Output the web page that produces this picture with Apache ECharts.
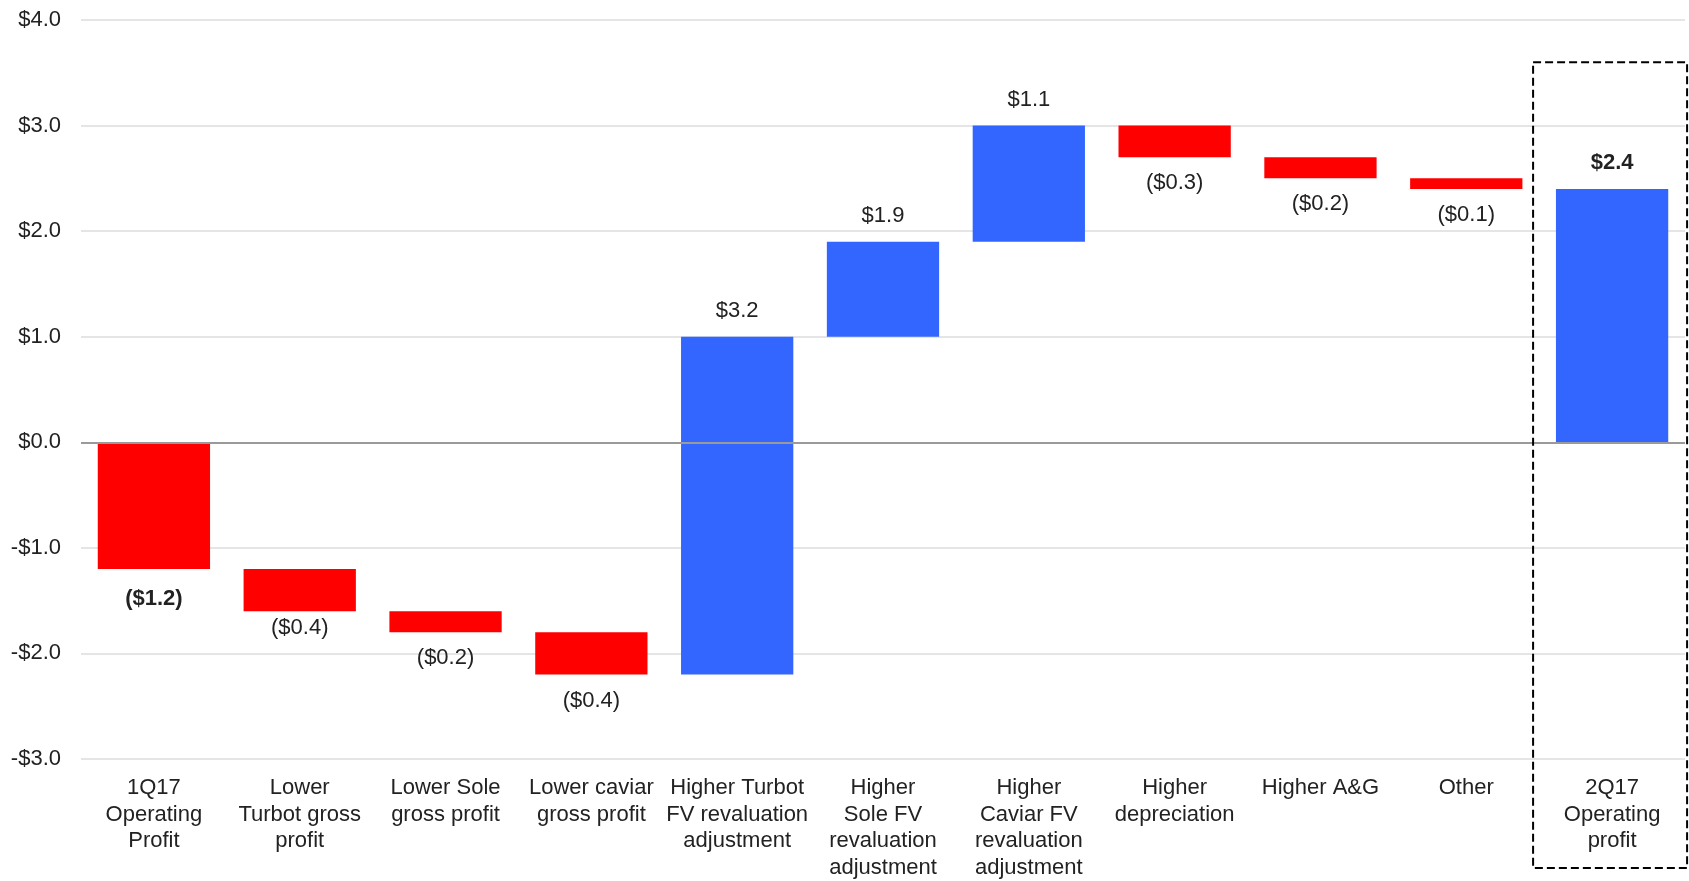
<!DOCTYPE html>
<html>
<head>
<meta charset="utf-8">
<script src="https://cdn.jsdelivr.net/npm/echarts@6/dist/echarts.min.js"></script>
<style>
  html, body { margin: 0; padding: 0; background: #fff; }
  #chart { width: 1689px; height: 881px; }
</style>
</head>
<body>
<div id="chart"></div>
<script>
// categories along the bottom
const categories = [
    "1Q17\nOperating\nProfit",
    "Lower\nTurbot gross\nprofit",
    "Lower Sole\ngross profit",
    "Lower caviar\ngross profit",
    "Higher Turbot\nFV revaluation\nadjustment",
    "Higher\nSole FV\nrevaluation\nadjustment",
    "Higher\nCaviar FV\nrevaluation\nadjustment",
    "Higher\ndepreciation",
    "Higher A&G",
    "Other",
    "2Q17\nOperating\nprofit",
];

// change per step (first and last are totals)
const deltas = [-1.2, -0.4, -0.2, -0.4, 3.2, 0.9, 1.1, -0.3, -0.2, -0.1, 2.4];
const isTotal = [true, false, false, false, false, false, false, false, false, false, true];

// labels as printed on the chart
const valueLabels = ["($1.2)", "($0.4)", "($0.2)", "($0.4)", "$3.2", "$1.9", "$1.1", "($0.3)", "($0.2)", "($0.1)", "$2.4"];

const FONT = "'Liberation Sans', Arial, sans-serif";
const TEXT = "#222";
const RED = "#ff0000";
const BLUE = "#3366ff";

// running start for each floating bar
const bases = [];
let running = 0;
deltas.forEach((d, i) => {
    if (isTotal[i]) {
        bases.push(0);
        running = d;
    } else {
        bases.push(Math.round(running * 10) / 10);
        running += d;
    }
});

const barData = deltas.map((d, i) => {
    const neg = d < 0;
    let distance = 15;
    if (i === 1) distance = 6;
    if (i === 0) distance = 19;
    return {
        value: d,
        itemStyle: { color: neg ? RED : BLUE },
        label: {
            show: true,
            position: neg ? "bottom" : "top",
            distance,
            formatter: valueLabels[i],
            fontWeight: isTotal[i] ? "bold" : "normal",
        },
    };
});

const chart = echarts.init(document.getElementById("chart"), null, { renderer: "canvas" });

const option = {
    animation: false,
    grid: { left: 81, right: 4, top: 20, bottom: 117 },
    xAxis: {
        type: "category",
        data: categories,
        axisLine: { show: false, onZero: false },
        axisTick: { show: false },
        axisLabel: {
            interval: 0,
            margin: 16,
            fontFamily: FONT,
            fontSize: 22,
            lineHeight: 26.5,
            color: TEXT,
        },
    },
    yAxis: {
        type: "value",
        min: -3,
        max: 4,
        interval: 1,
        axisLine: { show: false },
        axisTick: { show: false },
        axisLabel: {
            margin: 20,
            fontFamily: FONT,
            fontSize: 22,
            color: TEXT,
            formatter: (v) => (v < 0 ? "-$" + Math.abs(v).toFixed(1) : "$" + v.toFixed(1)),
        },
        splitLine: { lineStyle: { color: "#dcdcdc", width: 1.5 } },
    },
    series: [
        {
            name: "base",
            type: "bar",
            stack: "wf",
            stackStrategy: "all",
            silent: true,
            itemStyle: { color: "transparent" },
            barCategoryGap: "23%",
            data: bases,
        },
        {
            name: "change",
            type: "bar",
            stack: "wf",
            stackStrategy: "all",
            barCategoryGap: "23%",
            label: {
                fontFamily: FONT,
                fontSize: 22,
                color: TEXT,
            },
            data: barData,
            markLine: {
                silent: true,
                symbol: "none",
                label: { show: false },
                lineStyle: { color: "#9a9a9a", width: 2, type: "solid" },
                data: [{ yAxis: 0 }],
            },
        },
    ],
};

chart.setOption(option);

// dashed frame round the closing total
const cx = chart.convertToPixel({ xAxisIndex: 0 }, categories.length - 1);
const topY = chart.convertToPixel({ yAxisIndex: 0 }, 3.6);
chart.setOption({
    graphic: [
        {
            type: "rect",
            silent: true,
            shape: { x: cx - 79, y: topY, width: 154, height: 868 - topY },
            style: { fill: "none", stroke: "#000", lineWidth: 2, lineDash: [8, 4] },
            z: 100,
        },
    ],
});
</script>
</body>
</html>
